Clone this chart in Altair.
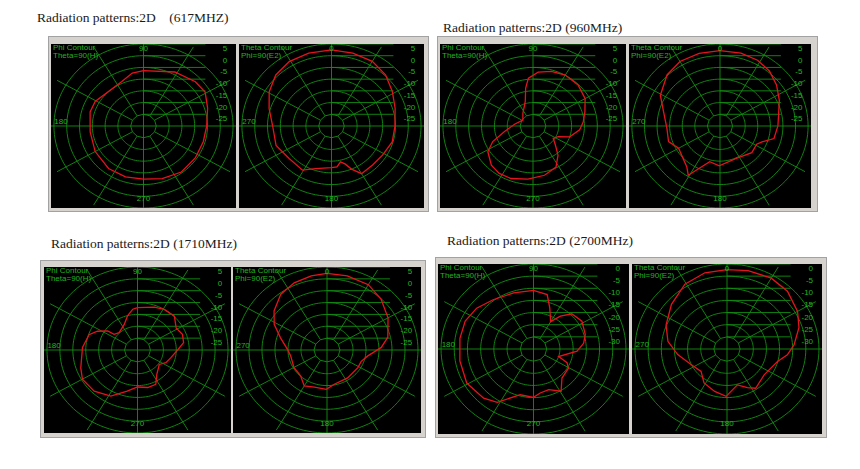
import altair as alt
import numpy as np
import pandas as pd

# ---------------- data (angle in degrees, gain in dB) ----------------
TITLE_617 = "Radiation patterns:2D\u00a0\u00a0\u00a0\u00a0(617MHZ)"
TITLE_960 = "Radiation patterns:2D (960MHz)"
TITLE_1710 = "Radiation patterns:2D (1710MHz)"
TITLE_2700 = "Radiation patterns:2D (2700MHz)"

# Phi contour (Theta=90, H): phi counter-clockwise from the right (90 at top)
PHI_617_ANG = [0, 17, 31, 43, 62, 90, 101, 114, 133, 151, 164, 187, 210, 233, 252, 270, 288, 307, 326, 344]
PHI_617_DB = [-5.3, -3.8, -1.9, -2.3, -3.9, -6.4, -7.0, -9.2, -9.9, -8.4, -8.3, -9.0, -8.2, -7.3, -7.2, -7.3, -6.4, -5.4, -5.6, -5.7]

PHI_960_ANG = [5, 17, 30, 45, 60, 73, 85, 95, 100, 106, 126, 147, 174, 192, 203, 212, 226, 237, 249, 265, 282, 297, 308, 317, 326, 335, 342, 355]
PHI_960_DB = [-10.4, -8.9, -6.6, -5.2, -4.9, -5.6, -6.9, -9.5, -13.6, -19.1, -23.3, -25.3, -22.8, -18.7, -13.0, -9.3, -6.7, -5.9, -6.0, -7.2, -8.5, -10.3, -14.2, -18.1, -20.5, -19.2, -15.0, -11.8]

PHI_1710_ANG = [0, 10, 21, 32, 45, 59, 70, 90, 96, 105, 115, 134, 144, 145, 153, 161, 177, 199, 210, 226, 242, 257, 270, 284, 296, 306, 324, 334, 346]
PHI_1710_DB = [-14.5, -11.9, -11.4, -12.4, -9.8, -10.0, -10.8, -12.1, -12.7, -15.1, -18.0, -19.8, -18.8, -15.9, -12.6, -10.2, -8.7, -6.8, -5.4, -5.9, -8.0, -12.2, -14.4, -13.7, -13.9, -17.3, -19.6, -17.8, -16.7]

PHI_2700_ANG = [7, 17, 32, 45, 53, 60, 70, 77, 90, 108, 127, 142, 156, 171, 190, 209, 227, 238, 255, 270, 278, 289, 301, 312, 329, 336, 342, 357]
PHI_2700_DB = [-15.9, -14.5, -13.4, -14.5, -18.1, -22.0, -17.0, -12.0, -10.9, -10.7, -9.6, -7.7, -6.7, -6.8, -6.7, -6.1, -7.3, -9.1, -15.5, -15.1, -16.7, -17.3, -14.7, -18.9, -19.6, -21.1, -25.0, -18.5]

# Theta contour (Phi=90, E2): theta clockwise from the top (0 at top)
THETA_617_ANG = [0, 15, 30, 44, 58, 73, 90, 106, 122, 136, 150, 157, 162, 167, 173, 180, 199, 211, 230, 249, 270, 287, 301, 315, 329, 344]
THETA_617_DB = [2.5, 2.2, 1.9, 0.4, -2.0, -4.0, -5.2, -5.3, -6.5, -6.9, -6.5, -10.0, -13.0, -14.3, -12.4, -12.2, -10.8, -8.0, -8.4, -6.8, -7.0, -4.5, -1.6, 0.8, 2.1, 2.4]

THETA_960_ANG = [0, 15, 28, 40, 52, 65, 78, 90, 104, 112, 118, 132, 156, 181, 195, 211, 217, 240, 252, 267, 285, 299, 316, 330, 345]
THETA_960_DB = [2.2, 2.2, 1.8, 0.6, -1.5, -4.0, -6.2, -7.0, -7.9, -12.0, -13.5, -13.0, -14.8, -13.0, -14.2, -5.5, -8.1, -11.0, -8.5, -8.9, -6.8, -2.9, 0.3, 1.8, 2.1]

THETA_1710_ANG = [0, 14, 30, 44, 60, 77, 87, 99, 110, 122, 146, 169, 181, 197, 210, 223, 240, 260, 271, 286, 298, 309, 323, 336, 349]
THETA_1710_DB = [2.3, 2.2, 1.8, -0.1, -2.9, -6.0, -9.1, -14.1, -16.0, -16.0, -15.8, -15.3, -13.4, -13.6, -12.5, -15.1, -15.3, -15.8, -14.8, -11.4, -7.0, -3.8, -0.5, 1.0, 1.8]

THETA_2700_ANG = [0, 14, 30, 44, 60, 72, 86, 96, 105, 127, 146, 154, 165, 181, 195, 212, 227, 245, 263, 278, 293, 311, 329, 345]
THETA_2700_DB = [-2.3, -1.7, -1.3, -1.9, -4.0, -6.2, -9.4, -11.9, -15.1, -17.3, -15.5, -17.3, -19.7, -15.5, -16.9, -18.5, -21.5, -19.9, -16.1, -12.3, -9.8, -7.0, -3.9, -2.5]

# radial scale: value at the centre, 5 dB per ring, labels from outer ring inwards
CENTER_DB_A = -30
CENTER_DB_B = -35
SCALE_LABELS_A = ["5", "0", "-5", "-10", "-15", "-20", "-25"]
SCALE_LABELS_B = ["0", "-5", "-10", "-15", "-20", "-25", "-30"]
RINGS = [1, 2, 3, 4, 5, 6, 7]
SPOKES = [30, 60, 120, 150, 210, 240, 300, 330]

# ---------------- style / layout ----------------
GRID = "#138f13"
TXT = "#22b422"
RED = "#e4141c"
FRAME = "#d6d3ce"
EDGE = "#a2a2a2"
SANS = "Liberation Sans"
SERIF = "Liberation Serif"
HW, HH = 7.23, 7.0  # half extents of the black area, in ring units

rows = []
for k in RINGS:
    step = 30 if k == 1 else 3
    for j, t in enumerate(np.arange(0, 360 + step, step)):
        rows.append({"k": k, "j": j, "t": float(t)})
RING_DF = pd.DataFrame(rows)

SPOKE_DF = pd.DataFrame(
    [{"a": a, "r0": 1.0, "r1": 7.8} for a in SPOKES]
    + [{"a": 0, "r0": -9.0, "r1": 9.0}, {"a": 90, "r0": -9.0, "r1": 9.0}]
)


def one():
    return alt.Data(values=[{"a": 1}])


def rect(color, x0, x1, y0, y1):
    return alt.Chart(one()).mark_rect(color=color).encode(
        x=alt.value(x0), x2=alt.value(x1), y=alt.value(y0), y2=alt.value(y1)
    )


def panel(kind, ang, db, center_db, labels, hgeo, vgeo, side, title=None):
    wl, ml, bw, mr = hgeo          # white, frame, black, frame (horizontal)
    wt, mt, bh, mb = vgeo          # white, frame, black, frame (vertical)
    W, H = wl + ml + bw + mr, wt + mt + bh + mb
    bx0, by0 = wl + ml, wt + mt
    xs = alt.Scale(domain=[-HW, HW], range=[bx0, bx0 + bw], nice=False, zero=False)
    ys = alt.Scale(domain=[-HH, HH], range=[by0 + bh, by0], nice=False, zero=False)

    def X(f):
        return alt.X(f, type="quantitative", scale=xs, axis=None)

    def Y(f):
        return alt.Y(f, type="quantitative", scale=ys, axis=None)

    black = rect("black", bx0, bx0 + bw, by0, by0 + bh)
    rings = (
        alt.Chart(RING_DF)
        .transform_calculate(x="datum.k*cos(datum.t*PI/180)", y="datum.k*sin(datum.t*PI/180)")
        .mark_line(color=GRID, strokeWidth=0.9, clip=True)
        .encode(x=X("x"), y=Y("y"), detail="k:N", order="j:Q")
    )
    spokes = (
        alt.Chart(SPOKE_DF)
        .transform_calculate(
            x="datum.r0*cos(datum.a*PI/180)", y="datum.r0*sin(datum.a*PI/180)",
            xe="datum.r1*cos(datum.a*PI/180)", ye="datum.r1*sin(datum.a*PI/180)",
        )
        .mark_rule(color=GRID, strokeWidth=0.9, clip=True)
        .encode(x=X("x"), y=Y("y"), x2="xe:Q", y2="ye:Q")
    )
    lab_df = pd.DataFrame({"k": RINGS[::-1], "lab": labels})
    dblines = (
        alt.Chart(lab_df)
        .transform_calculate(x0="0", x1="4.84")
        .mark_rule(color=GRID, strokeWidth=0.9, clip=True)
        .encode(x=X("x0"), x2="x1:Q", y=Y("k"))
    )
    scale_text = (
        alt.Chart(lab_df)
        .transform_calculate(lx="6.55")
        .mark_text(align="right", baseline="top", dy=1, color=TXT, font=SANS, fontSize=8)
        .encode(x=X("lx"), y=Y("k"), text="lab:N")
    )
    if kind == "phi":
        ang_labels = [("90", 0, 6.6), ("270", 0, -6.2), ("180", -6.45, 0.37)]
        head = ["Phi Contour", "Theta=90(H)"]
        xe = "datum.r*cos(datum.a*PI/180)"
        ye = "datum.r*sin(datum.a*PI/180)"
    else:
        ang_labels = [("0", 0, 6.6), ("180", 0, -6.2), ("270", -6.45, 0.37)]
        head = ["Theta Contour", "Phi=90(E2)"]
        xe = "datum.r*sin(datum.a*PI/180)"
        ye = "datum.r*cos(datum.a*PI/180)"
    al_df = pd.DataFrame(ang_labels, columns=["lab", "x", "y"])
    angle_text = (
        alt.Chart(al_df)
        .mark_text(align="center", baseline="middle", color=TXT, font=SANS, fontSize=8)
        .encode(x=X("x"), y=Y("y"), text="lab:N")
    )
    cdf = pd.DataFrame({"i": range(len(ang) + 1), "a": list(ang) + [ang[0]], "db": list(db) + [db[0]]})
    curve = (
        alt.Chart(cdf)
        .transform_calculate(r=f"(datum.db - ({center_db})) / 5")
        .transform_calculate(x=xe, y=ye)
        .mark_line(color=RED, strokeWidth=1.3, clip=True)
        .encode(x=X("x"), y=Y("y"), order="i:Q")
    )
    heads = [
        alt.Chart(one())
        .mark_text(align="left", baseline="middle", color=TXT, font=SANS, fontSize=8)
        .encode(x=alt.value(bx0 + 2), y=alt.value(by0 + 4 + 8 * n), text=alt.value(h))
        for n, h in enumerate(head)
    ]
    fx0, fy0 = wl, wt
    masks = [
        rect(FRAME, fx0, W, fy0, by0),
        rect(FRAME, fx0, W, by0 + bh, H),
        rect(FRAME, fx0, bx0, fy0, H),
        rect(FRAME, bx0 + bw, W, fy0, H),
    ]
    if wl > 0:
        masks.append(rect("white", 0, wl, 0, H))
    if wt > 0:
        masks.append(rect("white", 0, W, 0, wt))
    edges = [
        alt.Chart(one()).mark_rule(color=EDGE).encode(x=alt.value(fx0), x2=alt.value(W), y=alt.value(fy0 + 0.5)),
        alt.Chart(one()).mark_rule(color=EDGE).encode(x=alt.value(fx0), x2=alt.value(W), y=alt.value(H - 0.5)),
    ]
    ex = fx0 + 0.5 if side == "L" else W - 0.5
    edges.append(alt.Chart(one()).mark_rule(color=EDGE).encode(x=alt.value(ex), y=alt.value(fy0), y2=alt.value(H)))
    layers = [black, rings, spokes, dblines, curve, scale_text, angle_text, *heads, *masks, *edges]
    if title is not None:
        text, tx, ty = title
        layers.append(
            alt.Chart(one())
            .mark_text(align="left", baseline="middle", font=SERIF, fontSize=13.5, color="#1a1a1a")
            .encode(x=alt.value(tx), y=alt.value(ty), text=alt.value(text))
        )
    return alt.layer(*layers).properties(width=W, height=H)


# row 1 (617 MHz, 960 MHz)
V1 = (0, 8, 164, 4)
p1 = panel("phi", PHI_617_ANG, PHI_617_DB, CENTER_DB_A, SCALE_LABELS_A, (11, 3, 185, 1), V1, "L", (TITLE_617, 0, -18))
p2 = panel("theta", THETA_617_ANG, THETA_617_DB, CENTER_DB_A, SCALE_LABELS_A, (0, 2, 185, 5), V1, "R")
p3 = panel("phi", PHI_960_ANG, PHI_960_DB, CENTER_DB_A, SCALE_LABELS_A, (8, 3, 186, 1), V1, "L", (TITLE_960, 14, -8))
p4 = panel("theta", THETA_960_ANG, THETA_960_DB, CENTER_DB_A, SCALE_LABELS_A, (0, 2, 182, 7), V1, "R")

# row 2 (1710 MHz, 2700 MHz)
V3 = (3, 7, 166, 5)
V4 = (0, 7, 170, 4)
p5 = panel("phi", PHI_1710_ANG, PHI_1710_DB, CENTER_DB_A, SCALE_LABELS_A, (3, 4, 187, 1), V3, "L", (TITLE_1710, 14, -13))
p6 = panel("theta", THETA_1710_ANG, THETA_1710_DB, CENTER_DB_A, SCALE_LABELS_A, (0, 1, 188, 5), V3, "R")
p7 = panel("phi", PHI_2700_ANG, PHI_2700_DB, CENTER_DB_B, SCALE_LABELS_B, (9, 3, 191, 2), V4, "L", (TITLE_2700, 21, -16))
p8 = panel("theta", THETA_2700_ANG, THETA_2700_DB, CENTER_DB_B, SCALE_LABELS_B, (0, 1, 190, 5), V4, "R")

row1 = alt.hconcat(p1, p2, p3, p4, spacing=0, bounds="flush")
row2 = alt.hconcat(p5, p6, p7, p8, spacing=0, bounds="flush")

chart = (
    alt.vconcat(row1, row2, spacing=20)
    .properties(padding={"left": 28, "top": 2, "right": 4, "bottom": 4}, background="white")
    .configure_view(fill="white", stroke="transparent")
)

chart.save("out.html", embed_options={"renderer": "svg", "actions": False})
